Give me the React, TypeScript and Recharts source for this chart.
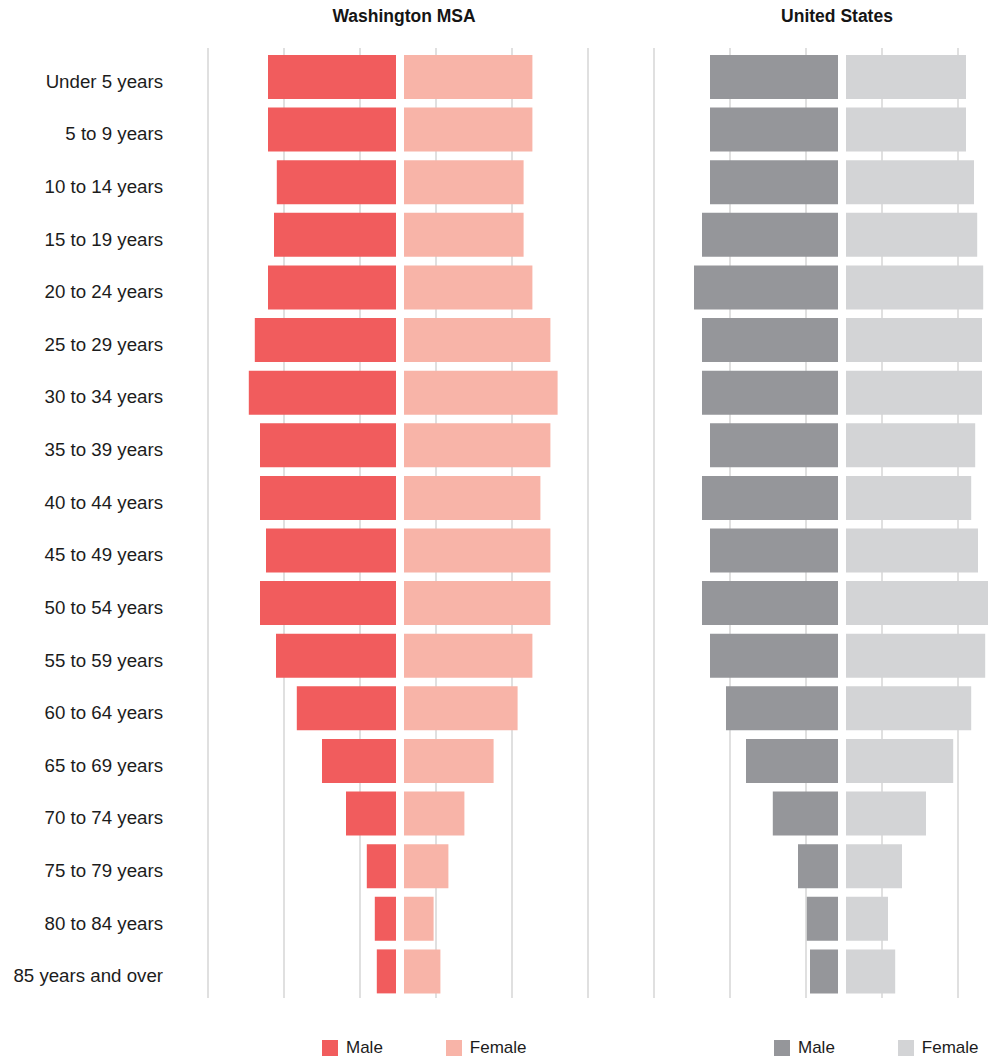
import React from 'react';
import { BarChart, Bar, XAxis, YAxis, CartesianGrid, Legend } from 'recharts';

const AGE_GROUPS = [
    'Under 5 years', '5 to 9 years', '10 to 14 years', '15 to 19 years', '20 to 24 years',
    '25 to 29 years', '30 to 34 years', '35 to 39 years', '40 to 44 years', '45 to 49 years',
    '50 to 54 years', '55 to 59 years', '60 to 64 years', '65 to 69 years', '70 to 74 years',
    '75 to 79 years', '80 to 84 years', '85 years and over',
];

// share of total population, %
const MSA_MALE = [3.2, 3.2, 2.98, 3.05, 3.2, 3.53, 3.68, 3.4, 3.4, 3.25, 3.4, 3.0, 2.48, 1.85, 1.25, 0.73, 0.53, 0.48];
const MSA_FEMALE = [3.21, 3.21, 2.99, 2.99, 3.21, 3.66, 3.84, 3.66, 3.41, 3.66, 3.66, 3.21, 2.84, 2.24, 1.51, 1.11, 0.74, 0.91];
const US_MALE = [3.2, 3.2, 3.2, 3.4, 3.6, 3.4, 3.4, 3.2, 3.4, 3.2, 3.4, 3.2, 2.8, 2.3, 1.63, 1.0, 0.78, 0.7];
const US_FEMALE = [3.0, 3.0, 3.2, 3.28, 3.43, 3.4, 3.4, 3.23, 3.13, 3.3, 3.58, 3.48, 3.13, 2.68, 2.0, 1.4, 1.05, 1.23];

const SERIES_NAMES = ['Male', 'Female'];
const GRID_TICKS = [0, 1, 2, 3, 4, 5];

const PX_PER_PCT = 40;
const FONT = '"Liberation Sans", Arial, sans-serif';
const PLOT_TOP = 48;
const PLOT_BOTTOM = 998;
const PAGE_W = 988;
const PAGE_H = 1057;

const toRows = (male: number[], female: number[]) =>
    AGE_GROUPS.map((age, i) => ({ age, male: male[i], female: female[i] }));

// evenly spaced guide lines across the whole plot area
const gridLines = ({ offset }: any) => {
    const last = GRID_TICKS[GRID_TICKS.length - 1];
    return GRID_TICKS.map((t) => offset.left + (t / last) * offset.width);
};

const AgeTick = (props: any) => {
    const { x, y, payload } = props;
    return (
        <text x={x} y={y} dy={10.5} textAnchor="end" fontSize={18.7} fontFamily={FONT} fill="#1c1c1c">
            {payload.value}
        </text>
    );
};

const LegendContent = (props: any) => {
    const items = [...(props.payload || [])].sort(
        (a: any, b: any) => SERIES_NAMES.indexOf(a.value) - SERIES_NAMES.indexOf(b.value)
    );
    return (
        <div style={{ display: 'flex', gap: 63, fontFamily: FONT, fontSize: 17, color: '#1c1c1c' }}>
            {items.map((p: any) => (
                <div key={p.value} style={{ display: 'flex', alignItems: 'center', height: 18 }}>
                    <span style={{ width: 16, height: 16, background: p.color, marginRight: 8, display: 'inline-block' }} />
                    <span style={{ lineHeight: '18px' }}>{p.value}</span>
                </div>
            ))}
        </div>
    );
};

interface PyramidProps {
    rows: { age: string; male: number; female: number }[];
    title: string;
    titleCenter: number;
    maleColor: string;
    femaleColor: string;
    left: number;
    plotLeft: number;
    plotRight: number;
    maleEdge: number;
    femaleEdge: number;
    legendLeft: number;
    showLabels?: boolean;
}

const Pyramid: React.FC<PyramidProps> = ({
    rows, title, titleCenter, maleColor, femaleColor, left, plotLeft, plotRight,
    maleEdge, femaleEdge, legendLeft, showLabels,
}) => {
    const width = plotRight + 12 - left;
    const maleMax = (maleEdge - plotLeft) / PX_PER_PCT;
    const femaleMax = (plotRight - femaleEdge) / PX_PER_PCT;

    return (
        <>
            <div style={{
                position: 'absolute', left: titleCenter - 150, top: 6, width: 300, textAlign: 'center',
                fontFamily: FONT, fontWeight: 700, fontSize: 17.5, lineHeight: '20px', color: '#151515',
            }}>
                {title}
            </div>
            <div style={{ position: 'absolute', left, top: 0 }}>
                <BarChart
                    width={width}
                    height={PAGE_H}
                    data={rows}
                    layout="vertical"
                    margin={{ top: PLOT_TOP, bottom: PAGE_H - PLOT_BOTTOM, left: showLabels ? 0 : plotLeft - left, right: 12 }}
                >
                    <XAxis
                        xAxisId="male"
                        type="number"
                        domain={[0, maleMax]}
                        reversed
                        hide
                        allowDataOverflow
                        padding={{ left: 0, right: plotRight - maleEdge }}
                    />
                    <XAxis
                        xAxisId="female"
                        type="number"
                        domain={[0, femaleMax]}
                        hide
                        allowDataOverflow
                        padding={{ left: femaleEdge - plotLeft, right: 0 }}
                    />
                    {/* second category axis only carries the female bars, so it takes no room */}
                    <YAxis yAxisId="f" type="category" dataKey="age" hide width={0} padding={{ top: 3, bottom: 0 }} />
                    <YAxis
                        yAxisId="m"
                        type="category"
                        dataKey="age"
                        width={showLabels ? plotLeft - left : 0}
                        hide={!showLabels}
                        axisLine={false}
                        tickLine={false}
                        tickSize={0}
                        tickMargin={45}
                        interval={0}
                        tick={<AgeTick />}
                        padding={{ top: 3, bottom: 0 }}
                    />
                    <CartesianGrid
                        xAxisId="male"
                        yAxisId="m"
                        horizontal={false}
                        verticalCoordinatesGenerator={gridLines}
                        stroke="#d6d6d6"
                        strokeWidth={1.5}
                    />
                    <Bar dataKey="male" name="Male" xAxisId="male" yAxisId="m" fill={maleColor} barSize={44} isAnimationActive={false} />
                    <Bar dataKey="female" name="Female" xAxisId="female" yAxisId="f" fill={femaleColor} barSize={44} isAnimationActive={false} />
                    <Legend
                        layout="horizontal"
                        verticalAlign="middle"
                        align="center"
                        content={<LegendContent />}
                        wrapperStyle={{ left: legendLeft - left, top: 1039, width: 'auto', height: 'auto' }}
                    />
                </BarChart>
            </div>
        </>
    );
};

export default function App() {
    return (
        <div style={{
            position: 'absolute', left: 0, top: 0, width: PAGE_W, height: PAGE_H,
            overflow: 'hidden', background: '#fff', fontFamily: FONT,
        }}>
            <Pyramid
                rows={toRows(MSA_MALE, MSA_FEMALE)}
                title="Washington MSA"
                titleCenter={404}
                maleColor="#f15c5d"
                femaleColor="#f8b4a8"
                left={0}
                plotLeft={208}
                plotRight={588}
                maleEdge={396}
                femaleEdge={404}
                legendLeft={322}
                showLabels
            />
            <Pyramid
                rows={toRows(US_MALE, US_FEMALE)}
                title="United States"
                titleCenter={837}
                maleColor="#95969a"
                femaleColor="#d3d4d6"
                left={600}
                plotLeft={654}
                plotRight={1034}
                maleEdge={838}
                femaleEdge={846}
                legendLeft={774}
            />
        </div>
    );
}
